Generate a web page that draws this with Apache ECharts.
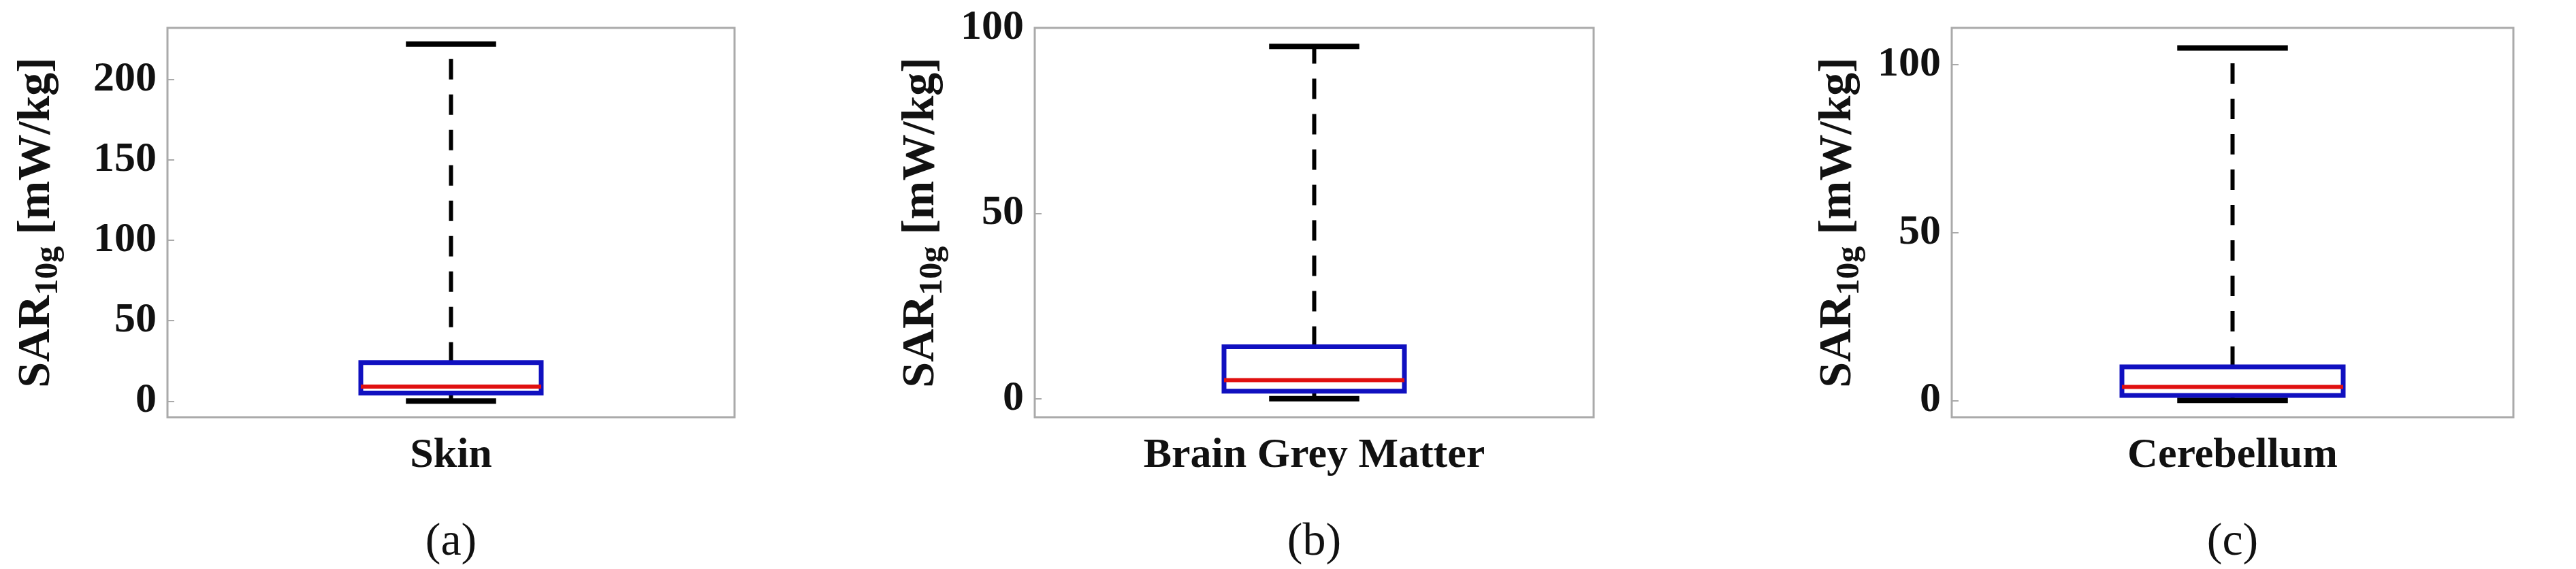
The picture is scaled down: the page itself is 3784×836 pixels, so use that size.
<!DOCTYPE html>
<html>
<head>
<meta charset="utf-8">
<script src="https://cdn.jsdelivr.net/npm/echarts@6/dist/echarts.min.js"></script>
<style>html,body{margin:0;padding:0;background:#fff}#main{width:3784px;height:836px}</style>
</head>
<body>
<div id="main"></div>
<script>
// one box per panel: [min, q1, median, q3, max]
var categories = ['Skin', 'Brain Grey Matter', 'Cerebellum'];
var skinBox = [0, 5, 9, 24, 222];
var greyBox = [0, 2, 5, 14, 95];
var cerebBox = [0, 1.5, 4, 10, 105];
var boxes = [skinBox, greyBox, cerebBox];
var panelTags = ['(a)', '(b)', '(c)'];
var yMin = [-10, -5, -5], yMax = [232, 100, 111];
var yTicks = [[0, 50, 100, 150, 200], [0, 50, 100], [0, 50, 100]];

var grids = [
  {left: 246, width: 833, top: 41, height: 574},
  {left: 1520, width: 821, top: 41, height: 574},
  {left: 2867, width: 825, top: 41, height: 574}
];
var boxW = [265, 265, 325];
var font = '"Liberation Serif", "Times New Roman", serif';

function renderBox(params, api){
  var i = params.seriesIndex;
  var v = boxes[i];
  var x = api.coord([0, 0])[0];
  var y = function(val){ return api.coord([0, val])[1]; };
  var hw = boxW[i] / 2, cw = boxW[i] / 4;
  return {type: 'group', children: [
    {type: 'line', shape: {x1: x, y1: y(v[3]), x2: x, y2: y(v[4])}, style: {stroke: '#000', lineWidth: 6, lineDash: [30, 22]}},
    {type: 'line', shape: {x1: x, y1: y(v[0]), x2: x, y2: y(v[1])}, style: {stroke: '#000', lineWidth: 6, lineDash: [30, 22]}},
    {type: 'line', shape: {x1: x - cw, y1: y(v[4]), x2: x + cw, y2: y(v[4])}, style: {stroke: '#000', lineWidth: 8}},
    {type: 'line', shape: {x1: x - cw, y1: y(v[0]), x2: x + cw, y2: y(v[0])}, style: {stroke: '#000', lineWidth: 8}},
    {type: 'rect', shape: {x: x - hw, y: y(v[3]), width: hw * 2, height: y(v[1]) - y(v[3])}, style: {fill: 'rgba(0,0,0,0)', stroke: '#1010c0', lineWidth: 7}},
    {type: 'line', shape: {x1: x - hw, y1: y(v[2]), x2: x + hw, y2: y(v[2])}, style: {stroke: '#e01010', lineWidth: 6}}
  ]};
}

var option = {
  animation: false,
  grid: grids.map(function(g){ return Object.assign({show: true, borderColor: '#aaa', borderWidth: 3, backgroundColor: '#fff'}, g); }),
  xAxis: categories.map(function(c, i){
    return {type: 'category', gridIndex: i, data: [c], boundaryGap: true,
      axisLine: {show: false}, axisTick: {inside: true, length: 10, lineStyle: {color: '#aaa', width: 2}, alignWithLabel: true},
      axisLabel: {fontFamily: font, fontWeight: 'bold', fontSize: 62, color: '#111', margin: 26},
      name: panelTags[i], nameLocation: 'middle', nameGap: 150,
      nameTextStyle: {fontFamily: font, fontSize: 68, color: '#111'}};
  }),
  yAxis: categories.map(function(c, i){
    return {type: 'value', gridIndex: i, min: yMin[i], max: yMax[i],
      axisLabel: {fontFamily: font, fontWeight: 'bold', fontSize: 62, color: '#111', margin: 16, customValues: yTicks[i]},
      axisLine: {show: false}, splitLine: {show: false},
      axisTick: {show: true, inside: true, length: 10, customValues: yTicks[i], lineStyle: {color: '#aaa', width: 2}},
      name: '{a|SAR}{s|10g}{a| [mW/kg]}', nameLocation: 'middle', nameGap: i === 0 ? 150 : 125,
      nameTextStyle: {rich: {
        a: {fontFamily: font, fontWeight: 'bold', fontSize: 68, color: '#111'},
        s: {fontFamily: font, fontWeight: 'bold', fontSize: 48, color: '#111', verticalAlign: 'bottom', padding: [36, 0, 0, 0]}
      }}};
  }),
  series: boxes.map(function(b, i){
    return {type: 'custom', xAxisIndex: i, yAxisIndex: i, data: [[0, b[4]]], renderItem: renderBox, clip: false};
  })
};
echarts.init(document.getElementById('main')).setOption(option);
</script>
</body>
</html>
